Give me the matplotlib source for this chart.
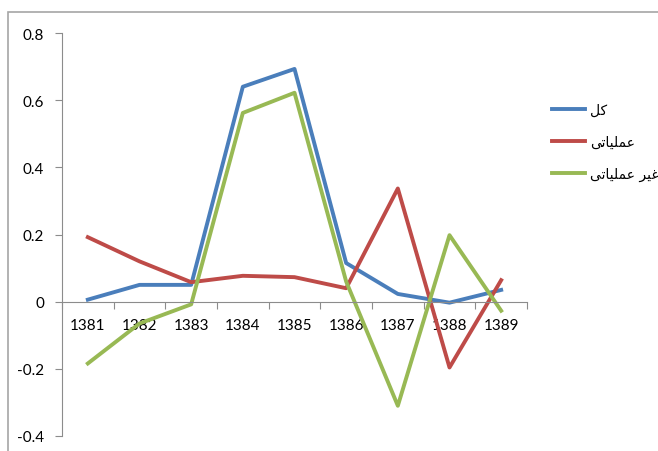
import matplotlib
matplotlib.use("Agg")
import matplotlib.pyplot as plt
from matplotlib.patches import Rectangle
from matplotlib.ticker import FixedLocator, NullFormatter, FixedFormatter

# ---------------- Data ----------------
years = ["1381", "1382", "1383", "1384", "1385", "1386", "1387", "1388", "1389"]
total = [0.006, 0.05, 0.05, 0.64, 0.693, 0.115, 0.023, -0.003, 0.035]
operating = [0.192, 0.12, 0.058, 0.077, 0.073, 0.04, 0.337, -0.196, 0.064]
non_operating = [-0.184, -0.065, -0.008, 0.562, 0.622, 0.06, -0.31, 0.198, -0.027]

# legend labels, pre-shaped (presentation forms, visual order) since matplotlib has no Arabic shaping
# کل / عملیاتی / غیر عملیاتی
lbl_total = "\uFEDE\uFB90"
lbl_oper = "\uFBFD\uFE97\uFE8E\uFBFF\uFEE0\uFEE4\uFECB"
lbl_nonoper = "\uFBFD\uFE97\uFE8E\uFBFF\uFEE0\uFEE4\uFECB \uFEAE\uFBFF\uFECF"

colors = ["#4A7EBB", "#BE4B48", "#98B954"]

plt.rcParams["font.family"] = ["Lato", "DejaVu Sans"]

W, H = 658, 452
fig = plt.figure(figsize=(W / 100, H / 100), dpi=100)

# outer chart frame
fig.patches.append(Rectangle((8 / W, -0.05), 1.1, 1 - 13 / H + 0.05, transform=fig.transFigure,
                             fill=False, edgecolor="#a6a6a6", lw=1.2))

ax = fig.add_axes([62 / W, (H - 437) / H, 465 / W, 403 / H])
x = list(range(len(years)))

ax.plot(x, total, color=colors[0], lw=2.8, label=lbl_total)
ax.plot(x, operating, color=colors[1], lw=2.8, label=lbl_oper)
ax.plot(x, non_operating, color=colors[2], lw=2.8, label=lbl_nonoper)

ax.set_xlim(-0.5, len(years) - 0.5)
ax.set_ylim(-0.4, 0.8)

for s in ["top", "right"]:
    ax.spines[s].set_visible(False)
ax.spines["left"].set_color("#8c8c8c")
ax.spines["bottom"].set_color("#8c8c8c")
ax.spines["bottom"].set_position(("data", 0))

ax.set_yticks([-0.4, -0.2, 0, 0.2, 0.4, 0.6, 0.8])
ax.set_yticklabels(["-0.4", "-0.2", "0", "0.2", "0.4", "0.6", "0.8"])
ax.tick_params(axis="y", direction="out", length=5, color="#8c8c8c", labelsize=11, pad=8)

# category boundaries as tick marks, labels at centres
ax.xaxis.set_major_locator(FixedLocator([i - 0.5 for i in range(len(years) + 1)]))
ax.xaxis.set_major_formatter(NullFormatter())
ax.xaxis.set_minor_locator(FixedLocator(x))
ax.xaxis.set_minor_formatter(FixedFormatter(years))
ax.tick_params(axis="x", which="major", direction="out", length=5, color="#8c8c8c")
ax.tick_params(axis="x", which="minor", length=0, labelsize=11, pad=12)

fig.legend(loc="upper left", bbox_to_anchor=(545 / W, 1 - 97 / H), frameon=False,
           handlelength=2.4, handletextpad=0.35, labelspacing=1.3,
           borderpad=0, prop={"family": ["DejaVu Sans"], "size": 10})

fig.savefig("out.png", dpi=100)
